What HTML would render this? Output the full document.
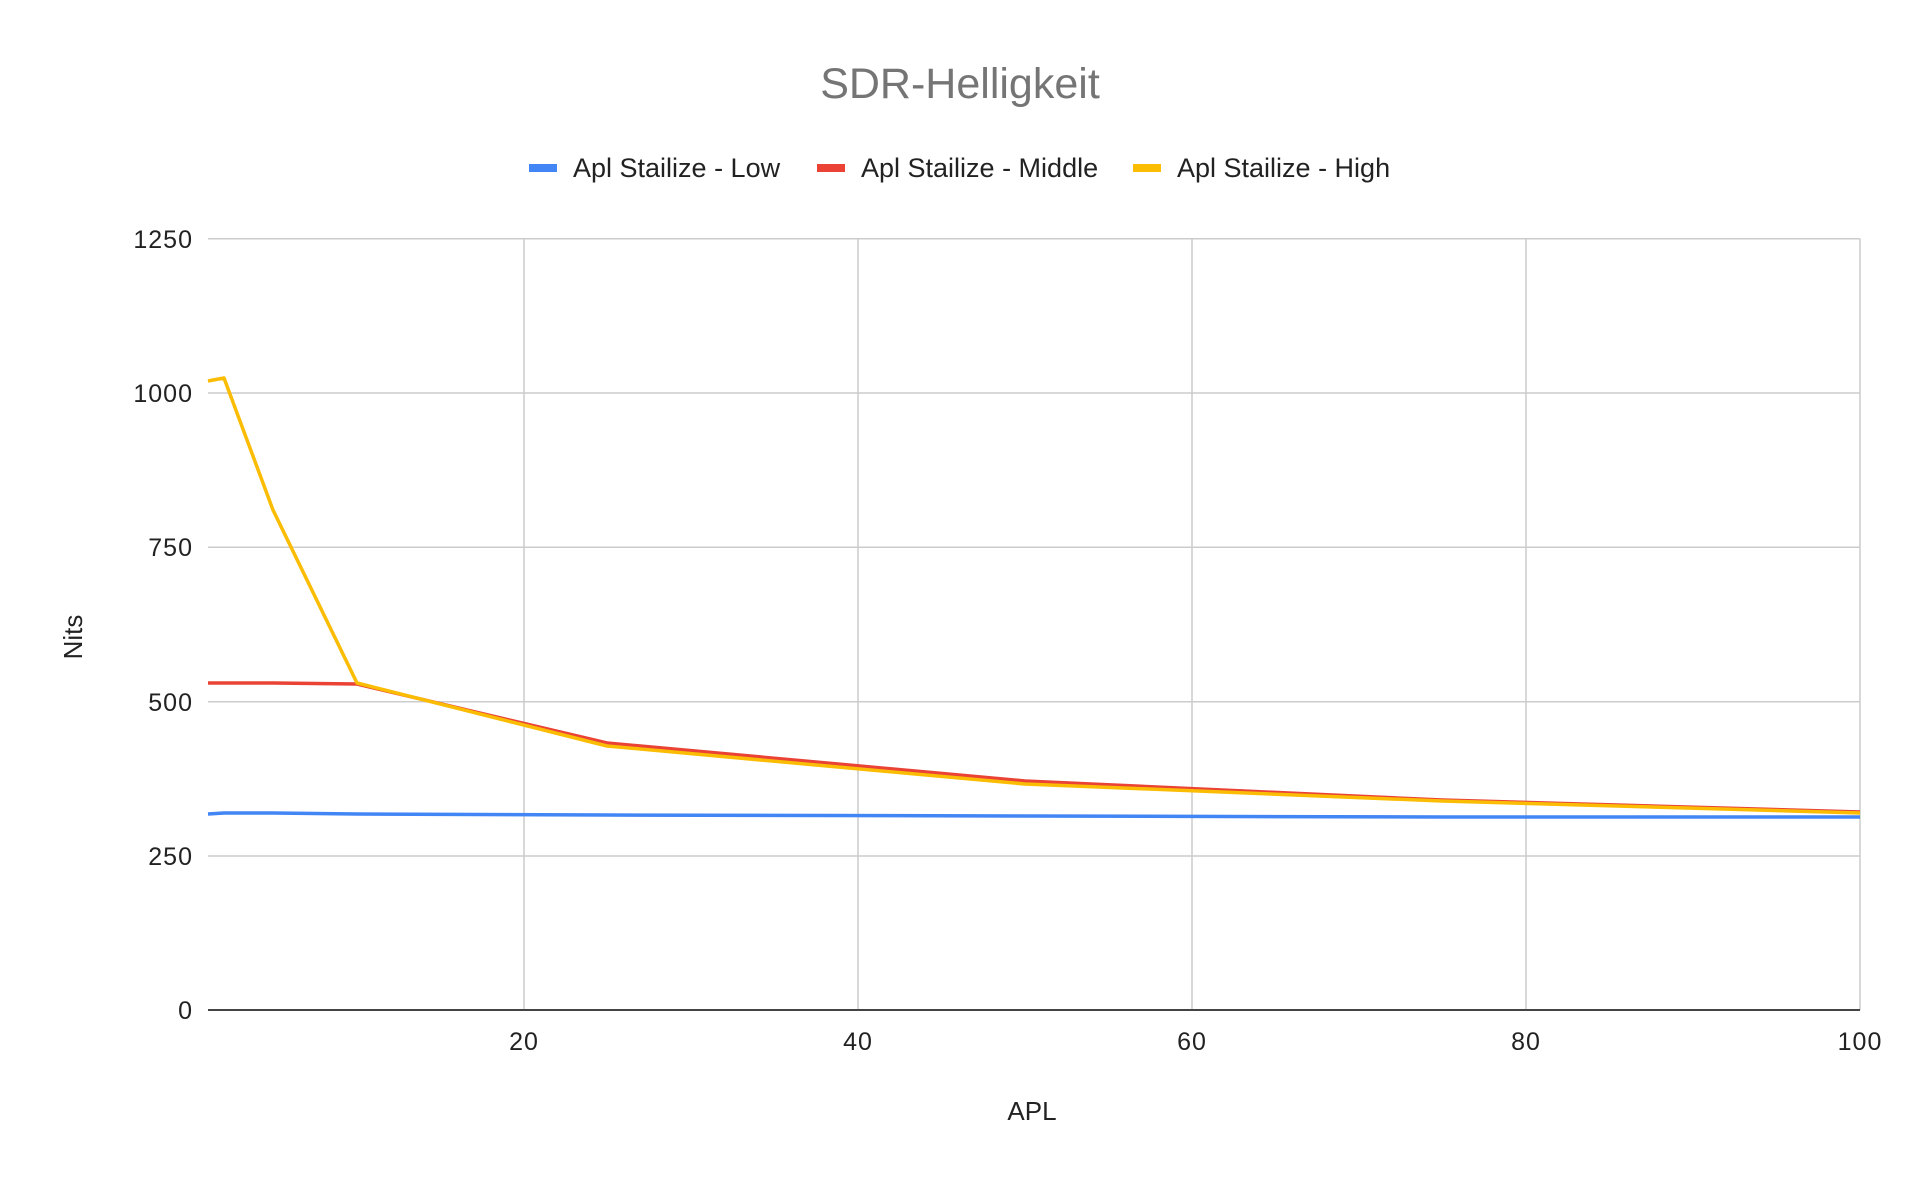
<!DOCTYPE html>
<html><head><style>body{margin:0;background:#fff}svg{display:block}text{font-family:"Liberation Sans",Arial,sans-serif}</style></head>
<body>
<svg width="1920" height="1186" xmlns="http://www.w3.org/2000/svg">
<rect width="1920" height="1186" fill="#fff"/>
<text x="960" y="98" text-anchor="middle" font-size="43" fill="#757575">SDR-Helligkeit</text>
<g font-size="27" fill="#222">
<rect x="529" y="164" width="28" height="8" fill="#4285f4"/><text x="573" y="177">Apl Stailize - Low</text>
<rect x="817" y="164" width="28" height="8" fill="#ea4335"/><text x="861" y="177">Apl Stailize - Middle</text>
<rect x="1133" y="164" width="28" height="8" fill="#fbbc04"/><text x="1177" y="177">Apl Stailize - High</text>
</g>
<g stroke="#ccc" stroke-width="1.5">
<line x1="208" y1="238.7" x2="1860" y2="238.7"/><line x1="208" y1="393" x2="1860" y2="393"/>
<line x1="208" y1="547.3" x2="1860" y2="547.3"/><line x1="208" y1="701.7" x2="1860" y2="701.7"/>
<line x1="208" y1="856" x2="1860" y2="856"/>
<line x1="524" y1="238.7" x2="524" y2="1010"/><line x1="858" y1="238.7" x2="858" y2="1010"/>
<line x1="1192" y1="238.7" x2="1192" y2="1010"/><line x1="1526" y1="238.7" x2="1526" y2="1010"/>
<line x1="1860" y1="238.7" x2="1860" y2="1010"/>
</g>
<line x1="208" y1="1010" x2="1860" y2="1010" stroke="#444" stroke-width="2"/>
<g font-size="25" fill="#222" text-anchor="end" letter-spacing="1">
<text x="193" y="248">1250</text><text x="193" y="402">1000</text><text x="193" y="556">750</text>
<text x="193" y="711">500</text><text x="193" y="865">250</text><text x="193" y="1019">0</text>
</g>
<g font-size="25" fill="#222" text-anchor="middle" letter-spacing="1">
<text x="524" y="1050">20</text><text x="858" y="1050">40</text><text x="1192" y="1050">60</text>
<text x="1526" y="1050">80</text><text x="1860" y="1050">100</text>
<text x="1032" y="1120" font-size="26" letter-spacing="0">APL</text>
</g>
<text transform="translate(82,637) rotate(-90)" font-size="26" fill="#222" text-anchor="middle">Nits</text>
<g fill="none" stroke-width="3.5" stroke-linejoin="round">
<polyline stroke="#4285f4" points="208,814 224,813 273,813 357,814 607,815 1025,816 1442,817 1860,817"/>
<polyline stroke="#ea4335" points="208,683 273,683 357,684 607,743 1025,781 1442,800 1860,812"/>
<polyline stroke="#fbbc04" points="208,381 224,378 273,510 357,683 607,746 1025,784 1442,801 1860,813"/>
</g>
</svg>
</body></html>
